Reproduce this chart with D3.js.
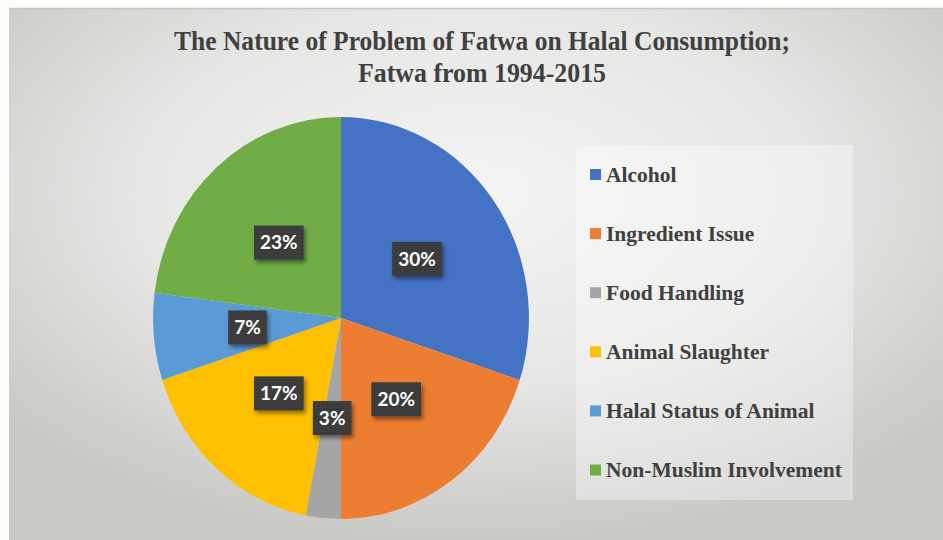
<!DOCTYPE html>
<html>
<head>
<meta charset="utf-8">
<script src="https://cdn.jsdelivr.net/npm/d3@7"></script>
<style>
  html, body { margin: 0; padding: 0; background: #fdfdfb; }
  svg { display: block; }
</style>
</head>
<body>
<svg id="chart" width="943" height="540"></svg>
<script>
// chart data
const categories = ["Alcohol", "Ingredient Issue", "Food Handling", "Animal Slaughter", "Halal Status of Animal", "Non-Muslim Involvement"];
const shares = [30, 20, 3, 17, 7, 23];
const sliceColors = ["#4472C4", "#ED7D31", "#A5A5A5", "#FFC000", "#5B9BD5", "#70AD47"];
const titleLines = ["The Nature of Problem of Fatwa on Halal Consumption;", "Fatwa from 1994-2015"];

const width = 943;
const height = 540;
const svg = d3.select("#chart");
const defs = svg.append("defs");

// background gradient of the chart area
const bg = defs.append("radialGradient")
  .attr("id", "bgGrad")
  .attr("cx", "50%").attr("cy", "35%").attr("r", "65%");
bg.append("stop").attr("offset", "0%").attr("stop-color", "#f4f5f3");
bg.append("stop").attr("offset", "55%").attr("stop-color", "#e6e7e4");
bg.append("stop").attr("offset", "100%").attr("stop-color", "#c9c9c6");

const shadow = defs.append("filter").attr("id", "lblShadow")
  .attr("x", "-20%").attr("y", "-20%").attr("width", "150%").attr("height", "160%");
shadow.append("feDropShadow")
  .attr("dx", 2).attr("dy", 3).attr("stdDeviation", 2)
  .attr("flood-color", "#000").attr("flood-opacity", 0.45);

// dotted texture for label boxes
const dots = defs.append("pattern").attr("id", "dots")
  .attr("width", 4).attr("height", 4).attr("patternUnits", "userSpaceOnUse");
dots.append("rect").attr("width", 4).attr("height", 4).attr("fill", "#3b3b3a");
dots.append("circle").attr("cx", 1).attr("cy", 1).attr("r", 0.7).attr("fill", "#4a4a48");

// chart area
svg.append("rect")
  .attr("x", 9).attr("y", 8)
  .attr("width", width - 9).attr("height", height - 8)
  .attr("fill", "url(#bgGrad)");
svg.append("line")
  .attr("x1", 9).attr("x2", width).attr("y1", 8.5).attr("y2", 8.5)
  .attr("stroke", "#c4c4c2").attr("stroke-width", 1.5);

// title
const titleSpec = [
  { y: 50, len: 616 },
  { y: 82, len: 248 }
];
svg.append("g").selectAll("text")
  .data(titleLines)
  .join("text")
  .attr("x", 482)
  .attr("y", (d, i) => titleSpec[i].y)
  .attr("text-anchor", "middle")
  .attr("textLength", (d, i) => titleSpec[i].len)
  .attr("lengthAdjust", "spacingAndGlyphs")
  .style("font-family", "'Liberation Serif', 'Times New Roman', serif")
  .style("font-weight", "bold")
  .style("font-size", "27px")
  .attr("fill", "#404040")
  .text(d => d);

// pie
const cx = 341, cy = 318;
const radius = 201;
const sx = 0.935; // picture is a bit squeezed horizontally

const data = categories.map((c, i) => ({ name: c, value: shares[i], color: sliceColors[i] }));
const pie = d3.pie().value(d => d.value).sort(null);
const arcs = pie(data);
const arc = d3.arc().innerRadius(0).outerRadius(radius);

const pieG = svg.append("g")
  .attr("transform", `translate(${cx},${cy}) scale(${sx},1)`);
pieG.selectAll("path")
  .data(arcs)
  .join("path")
  .attr("d", arc)
  .attr("fill", d => d.data.color)
  .attr("stroke", "none");

// data labels
const labelG = svg.append("g").attr("transform", `translate(${cx},${cy})`);
const lbl = labelG.selectAll("g")
  .data(arcs)
  .join("g")
  .attr("transform", d => {
    const [x, y] = arc.centroid(d);
    return `translate(${x * sx},${y})`;
  });
lbl.append("text")
  .attr("text-anchor", "middle")
  .attr("dy", "0.36em")
  .style("font-family", "Lato, 'Open Sans', sans-serif")
  .style("font-weight", "bold")
  .style("font-size", "19px")
  .attr("fill", "#ffffff")
  .text(d => d.data.value + "%");
lbl.each(function() {
  const g = d3.select(this);
  const w = g.select("text").node().getComputedTextLength();
  g.insert("rect", "text")
    .attr("x", -w / 2 - 6)
    .attr("y", -17)
    .attr("width", w + 12)
    .attr("height", 34)
    .attr("fill", "url(#dots)")
    .attr("filter", "url(#lblShadow)");
});

// legend
svg.append("rect")
  .attr("x", 576).attr("y", 145)
  .attr("width", 277).attr("height", 355)
  .attr("fill", "#ffffff").attr("fill-opacity", 0.35);

const legendY = d3.scalePoint()
  .domain(categories)
  .range([174.5, 470])
  ;
const legend = svg.append("g").selectAll("g")
  .data(data)
  .join("g")
  .attr("transform", d => `translate(590,${legendY(d.name)})`);
legend.append("rect")
  .attr("x", 0).attr("y", -5.5)
  .attr("width", 11).attr("height", 11)
  .attr("fill", d => d.color);
legend.append("text")
  .attr("x", 16)
  .attr("y", 7)
  .style("font-family", "'Liberation Serif', 'Times New Roman', serif")
  .style("font-weight", "bold")
  .style("font-size", "21.5px")
  .attr("fill", "#404040")
  .text(d => d.name);
</script>
</body>
</html>
